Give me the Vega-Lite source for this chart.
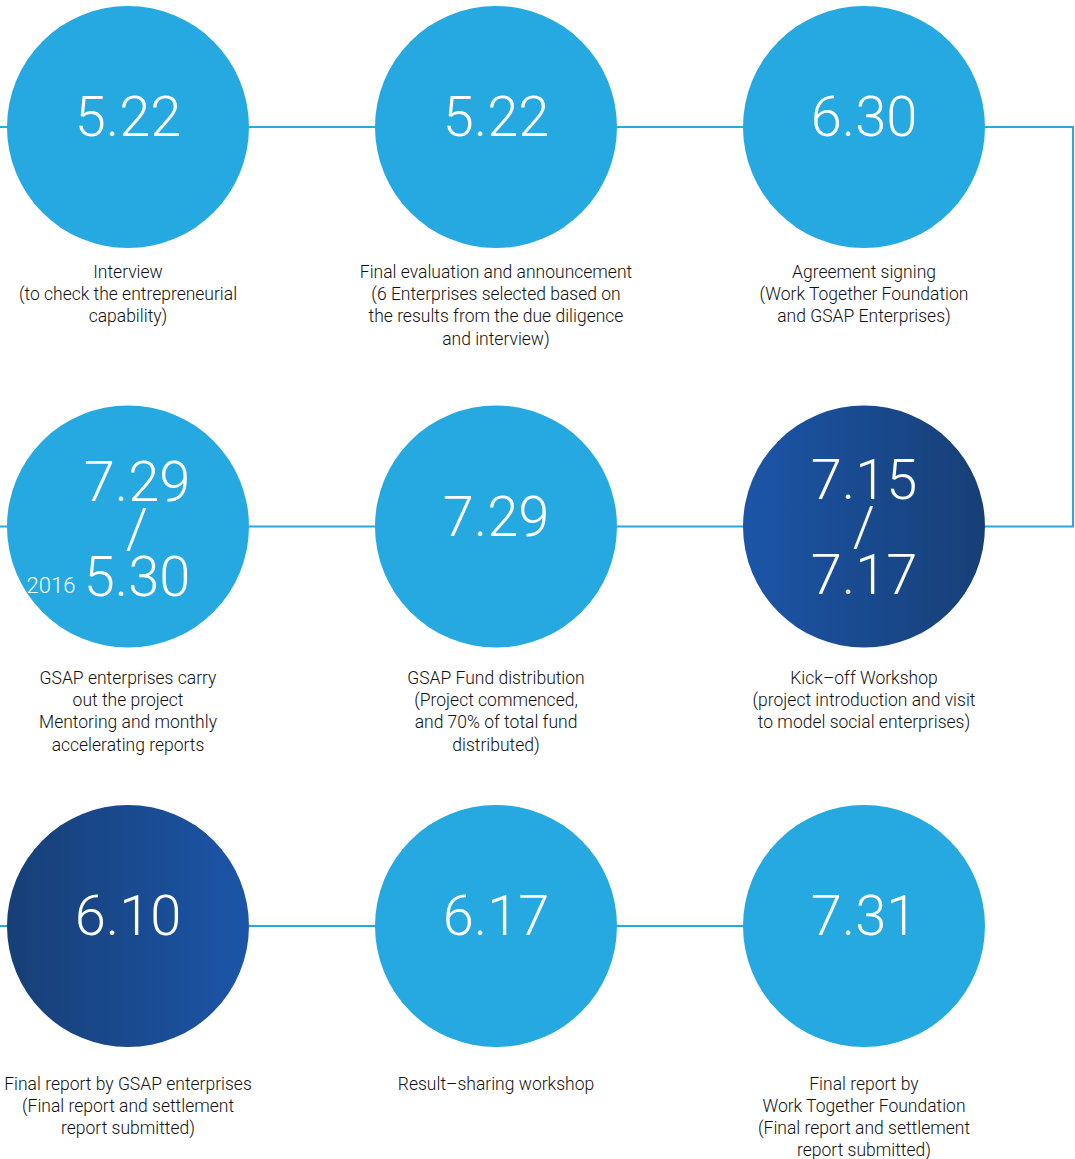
{
  "$schema": "https://vega.github.io/schema/vega-lite/v6.json",
  "width": 1075,
  "height": 1159,
  "autosize": "none",
  "padding": 0,
  "background": "#ffffff",
  "config": {"view": {"stroke": null}},
  "datasets": {
    "steps": [
      {"row": 1, "col": 1, "tone": "light", "date": "5.22", "note": "", "desc": "Interview\n(to check the entrepreneurial\ncapability)"},
      {"row": 1, "col": 2, "tone": "light", "date": "5.22", "note": "", "desc": "Final evaluation and announcement\n(6 Enterprises selected based on\nthe results from the due diligence\nand interview)"},
      {"row": 1, "col": 3, "tone": "light", "date": "6.30", "note": "", "desc": "Agreement signing\n(Work Together Foundation\nand GSAP Enterprises)"},
      {"row": 2, "col": 3, "tone": "darkA", "date": "7.15\n/\n7.17", "note": "", "desc": "Kick–off Workshop\n(project introduction and visit\nto model social enterprises)"},
      {"row": 2, "col": 2, "tone": "light", "date": "7.29", "note": "", "desc": "GSAP Fund distribution\n(Project commenced,\nand 70% of total fund\ndistributed)"},
      {"row": 2, "col": 1, "tone": "light", "date": "7.29\n/\n5.30", "note": "2016", "desc": "GSAP enterprises carry\nout the project\nMentoring and monthly\naccelerating reports"},
      {"row": 3, "col": 1, "tone": "darkB", "date": "6.10", "note": "", "desc": "Final report by GSAP enterprises\n(Final report and settlement\nreport submitted)"},
      {"row": 3, "col": 2, "tone": "light", "date": "6.17", "note": "", "desc": "Result–sharing workshop"},
      {"row": 3, "col": 3, "tone": "light", "date": "7.31", "note": "", "desc": "Final report by\nWork Together Foundation\n(Final report and settlement\nreport submitted)"}
    ],
    "path": [
      {"seg": "a", "ord": 1, "col": 0.6, "row": 1},
      {"seg": "a", "ord": 2, "col": 3.568, "row": 1},
      {"seg": "a", "ord": 3, "col": 3.568, "row": 2},
      {"seg": "a", "ord": 4, "col": 0.6, "row": 2},
      {"seg": "b", "ord": 1, "col": 0.6, "row": 3},
      {"seg": "b", "ord": 2, "col": 3, "row": 3}
    ]
  },
  "encoding": {
    "x": {"field": "col", "type": "quantitative", "scale": {"domain": [0.6522, 3.5734], "zero": false, "nice": false}, "axis": null},
    "y": {"field": "row", "type": "quantitative", "scale": {"domain": [0.6821, 3.5832], "zero": false, "nice": false, "reverse": true}, "axis": null}
  },
  "layer": [
    {
      "data": {"name": "path"},
      "mark": {"type": "line", "color": "#29a8e0", "strokeWidth": 2, "clip": true},
      "encoding": {"detail": {"field": "seg"}, "order": {"field": "ord", "type": "quantitative"}}
    },
    {
      "data": {"name": "steps"},
      "transform": [{"filter": "datum.tone === 'light'"}],
      "mark": {"type": "point", "shape": "circle", "filled": true, "opacity": 1, "size": 58564, "color": "#25a9e0", "strokeWidth": 0}
    },
    {
      "data": {"name": "steps"},
      "transform": [{"filter": "datum.tone === 'darkA'"}],
      "mark": {"type": "point", "shape": "circle", "filled": true, "opacity": 1, "size": 58564, "strokeWidth": 0,
        "fill": {"gradient": "linear", "x1": 0, "y1": 0, "x2": 1, "y2": 0, "stops": [{"offset": 0, "color": "#1c55a8"}, {"offset": 1, "color": "#173f76"}]}}
    },
    {
      "data": {"name": "steps"},
      "transform": [{"filter": "datum.tone === 'darkB'"}],
      "mark": {"type": "point", "shape": "circle", "filled": true, "opacity": 1, "size": 58564, "strokeWidth": 0,
        "fill": {"gradient": "linear", "x1": 0, "y1": 0, "x2": 1, "y2": 0, "stops": [{"offset": 0, "color": "#173f76"}, {"offset": 1, "color": "#1c55a8"}]}}
    },
    {
      "data": {"name": "steps"},
      "transform": [{"filter": "indexof(datum.date, '/') < 0"}],
      "mark": {"type": "text", "color": "#ffffff", "font": "Roboto", "fontWeight": 300, "fontSize": 56, "baseline": "middle", "align": "center", "dy": -8},
      "encoding": {"text": {"field": "date"}}
    },
    {
      "data": {"name": "steps"},
      "transform": [{"filter": "indexof(datum.date, '/') >= 0 && datum.note === ''"}],
      "mark": {"type": "text", "color": "#ffffff", "font": "Roboto", "fontWeight": 300, "fontSize": 56, "baseline": "middle", "align": "center", "dy": -45, "lineBreak": "\n", "lineHeight": 47.5},
      "encoding": {"text": {"field": "date"}}
    },
    {
      "data": {"name": "steps"},
      "transform": [{"filter": "indexof(datum.date, '/') >= 0 && datum.note !== ''"}],
      "mark": {"type": "text", "color": "#ffffff", "font": "Roboto", "fontWeight": 300, "fontSize": 56, "baseline": "middle", "align": "center", "dy": -43, "dx": 9, "lineBreak": "\n", "lineHeight": 47.5},
      "encoding": {"text": {"field": "date"}}
    },
    {
      "data": {"name": "steps"},
      "transform": [{"filter": "datum.note !== ''"}],
      "mark": {"type": "text", "color": "#ffffff", "font": "Roboto", "fontWeight": 300, "fontSize": 22, "baseline": "middle", "align": "center", "dy": 59, "dx": -77},
      "encoding": {"text": {"field": "note"}}
    },
    {
      "data": {"name": "steps"},
      "transform": [{"filter": "datum.row === 1"}],
      "mark": {"type": "text", "color": "#111111", "font": "Roboto", "fontWeight": 300, "fontSize": 17.5, "baseline": "top", "align": "center", "dy": 137, "lineBreak": "\n", "lineHeight": 22.2},
      "encoding": {"text": {"field": "desc"}}
    },
    {
      "data": {"name": "steps"},
      "transform": [{"filter": "datum.row === 2"}],
      "mark": {"type": "text", "color": "#111111", "font": "Roboto", "fontWeight": 300, "fontSize": 17.5, "baseline": "top", "align": "center", "dy": 143.5, "lineBreak": "\n", "lineHeight": 22.2},
      "encoding": {"text": {"field": "desc"}}
    },
    {
      "data": {"name": "steps"},
      "transform": [{"filter": "datum.row === 3"}],
      "mark": {"type": "text", "color": "#111111", "font": "Roboto", "fontWeight": 300, "fontSize": 17.5, "baseline": "top", "align": "center", "dy": 149.5, "lineBreak": "\n", "lineHeight": 22.2},
      "encoding": {"text": {"field": "desc"}}
    }
  ]
}
